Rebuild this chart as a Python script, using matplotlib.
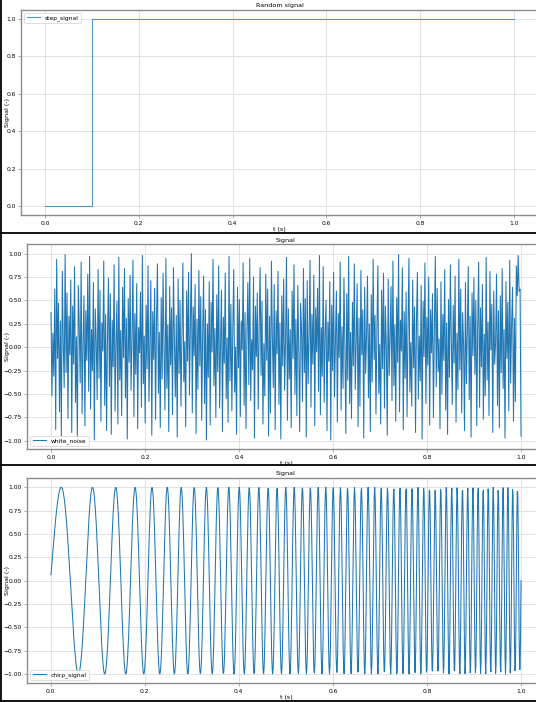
import numpy as np
import matplotlib.pyplot as plt
from matplotlib.lines import Line2D

# step signal: 0 until t = 0.1 s, then 1
step_t = [0.0, 0.1, 0.1, 1.0]
step_y = [0.0, 0.0, 1.0, 1.0]

# white noise samples (t spread evenly over 0..1 s)
noise_y = [
    0.37, -0.52, 0.15, -0.31, 0.62, -0.88, 0.94, -0.12, 0.47, -0.69, 0.28, -0.95, 0.81, 0.05, -0.43, 0.99, -0.27, 0.58, -0.76, 0.33,
    -0.08, 0.72, -0.91, 0.44, -0.18, 0.86, -0.59, 0.11, -0.97, 0.66, 0.23, -0.38, 0.91, -0.71, 0.02, 0.55, -0.84, 0.39, -0.14, 0.78,
    -0.47, 0.97, -0.66, 0.19, -0.25, 0.69, -0.99, 0.41, 0.08, -0.56, 0.83, -0.33, 0.61, -0.79, 0.26, -0.04, 0.92, -0.62, 0.35, -0.89,
    0.13, 0.74, -0.42, 0.57, -0.93, 0.29, -0.21, 0.88, -0.68, 0.04, 0.49, -0.82, 0.96, -0.35, 0.18, -0.73, 0.64, -0.11, 0.84, -0.54,
    0.31, -0.98, 0.52, -0.16, 0.77, -0.46, 0.09, 0.93, -0.74, 0.36, -0.29, 0.68, -0.87, 0.21, -0.06, 0.59, -0.64, 0.98, -0.39, 0.12,
    -0.81, 0.45, -0.23, 0.87, -0.58, 0.01, 0.71, -0.94, 0.38, -0.13, 0.63, -0.77, 0.27, 0.89, -0.49, 0.16, -0.86, 0.53, -0.34, 0.79,
    -0.02, -0.67, 0.95, -0.44, 0.24, -0.90, 0.65, -0.19, 0.42, -0.72, 0.85, 0.07, -0.53, 0.34, -0.96, 0.73, -0.28, 0.50, -0.63, 0.17,
    0.90, -0.37, 0.06, -0.85, 0.60, -0.15, 0.80, -0.51, 0.22, 1.00, -0.70, 0.43, -0.09, 0.67, -0.92, 0.30, -0.45, 0.82, -0.20, 0.54,
    -0.78, 0.14, 0.76, -0.60, 0.40, -0.99, 0.25, -0.32, 0.70, -0.83, 0.48, -0.05, 0.94, -0.41, 0.20, -0.75, 0.56, -0.26, 0.87, -0.65,
    0.03, 0.61, -0.90, 0.32, -0.17, 0.79, -0.55, 0.10, -0.80, 0.97, -0.36, 0.46, -0.68, 0.18, 0.83, -0.48, 0.00, -0.93, 0.64, -0.22,
    0.51, -0.74, 0.28, -0.03, 0.90, -0.62, 0.37, -0.87, 0.15, 0.69, -0.40, 0.95, -0.57, 0.08, -0.24, 0.75, -0.97, 0.44, -0.10, 0.58,
    -0.66, 0.23, 0.85, -0.30, 0.49, -0.82, 0.04, -0.52, 0.78, -0.14, 0.62, -0.95, 0.33, -0.70, 0.92, 0.12, -0.43, 0.67, -0.88, 0.39,
    -0.07, 0.81, -0.61, 0.26, -0.98, 0.55, -0.20, 0.73, -0.46, 0.06, 0.96, -0.78, 0.41, -0.34, 0.19, -0.86, 0.60, -0.12, 0.88, -0.50,
    0.30, -0.73, 0.66, -0.01, -0.90, 0.47, 0.17, -0.58, 0.84, -0.27, 0.52, -0.96, 0.71, -0.39, 0.10, 0.93, -0.64, 0.35, -0.18, 0.77,
    -0.84, 0.42, -0.05, 0.63, -0.47, 0.98, -0.72, 0.21, -0.31, 0.86, -0.59, 0.14, 0.50, -0.89, 0.27, -0.15, 0.70, -0.99, 0.45, -0.25,
    0.80, -0.53, 0.09, 0.60, -0.80, 0.36, -0.11, 0.91, -0.67, 0.22, -0.44, 0.74, 0.02, -0.92, 0.57, -0.35, 0.97, -0.60, 0.16, -0.76,
    0.48, -0.20, 0.89, -0.45, 0.07, 0.68, -0.85, 0.31, -0.63, 0.82, -0.08, 0.40, -0.97, 0.64, -0.28, 0.13, 0.76, -0.54, 0.25, -0.90,
    0.56, -0.37, 0.94, -0.13, 0.34, -0.71, 0.19, 0.87, -0.49, 0.03, -0.82, 0.61, -0.23, 0.79, -0.65, 0.44, 0.00, -0.94, 0.73, -0.30,
    0.11, 0.65, -0.57, 0.92, -0.41, 0.24, -0.79, 0.53, -0.16, 0.99, -0.69, 0.29, -0.04, 0.85, -0.88, 0.38, -0.33, 0.59, -0.74, 0.18,
    0.95, -0.48, 0.05, -0.63, 0.72, -0.22, 0.43, -0.91, 0.28, 0.80, -0.55, 0.12, -0.36, 0.66, -0.98, 0.49, -0.10, 0.90, -0.60, 0.32,
    -0.19, 0.75, -0.83, 0.40, -0.06, 0.57, -0.75, 0.20, 0.97, -0.42, 0.63, -0.26, 0.09, -0.87, 0.70, -0.50, 0.35, -0.14, 0.83, -0.67,
    0.26, -0.93, 0.51, -0.32, 0.88, 0.08, -0.61, 0.45, -0.17, 0.76, -0.80, 0.15, -0.45, 0.94, -0.24, 0.62, -0.70, 0.37, 0.03, -0.89,
    0.69, -0.39, 0.17, 0.86, -0.56, 0.33, -0.96, 0.58, -0.09, 0.74, -0.29, 0.50, -0.84, 0.22, 0.91, -0.64, 0.42, -0.21, 0.67, -0.77,
    0.14, -0.52, 0.96, -0.35, 0.27, -0.73, 0.81, -0.03, 0.46, -0.91, 0.60, -0.18, 0.05, 0.78, -0.62, 0.39, -0.86, 0.55, -0.27, 0.84,
    -0.44, 0.19, -0.97, 0.70, -0.12, 0.48, -0.68, 0.93, -0.38, 0.25, 0.64, -0.79, 0.31, -0.58, 0.87, 0.55, 0.98, 0.60, 0.62, -0.95,
]
noise_t = np.linspace(0.0, 1.0, len(noise_y))

# chirp: frequency sweep read from the peak spacing (about 10 Hz -> 100 Hz over 1 s)
chirp_f_start = 10.0
chirp_f_end = 100.0
chirp_t = np.linspace(0.001, 1.0, 1000)
chirp_y = np.sin(2 * np.pi * (chirp_f_start * chirp_t
                              + 0.5 * (chirp_f_end - chirp_f_start) * chirp_t ** 2))

LINE_COLOR = '#1f77b4'
SPINE_COLOR = '#8c8c8c'
FS = 4.3


def style_axes(ax, title, legend_loc, ylabel_x):
    ax.set_title(title, fontsize=FS + 0.3, pad=2)
    ax.set_xlabel('t (s)', fontsize=FS + 0.3, labelpad=1)
    ax.set_ylabel('Signal (-)', fontsize=FS + 0.3)
    ax.yaxis.set_label_coords(ylabel_x, 0.5)
    ax.grid(True, color='#e2e2e2', linewidth=0.7)
    ax.set_axisbelow(True)
    for s in ax.spines.values():
        s.set_color(SPINE_COLOR)
        s.set_linewidth(1.0)
    ax.tick_params(labelsize=FS, length=2, width=0.5, color=SPINE_COLOR, pad=2)
    leg = ax.legend(loc=legend_loc, fontsize=FS, handlelength=2.2,
                    borderpad=0.4, framealpha=0.9)
    leg.get_frame().set_linewidth(0.5)


fig = plt.figure(figsize=(5.36, 7.02), dpi=100)

ax1 = fig.add_axes([0.0401, 0.6932, 0.9627, 0.2931])
ax1.plot(step_t, step_y, color=LINE_COLOR, linewidth=0.8, alpha=0.75, label='step_signal')
style_axes(ax1, 'Random signal', 'upper left', -0.022)

ax2 = fig.add_axes([0.0513, 0.3600, 0.9646, 0.2920])
ax2.plot(noise_t, noise_y, color=LINE_COLOR, linewidth=0.75, label='white_noise')
style_axes(ax2, 'Signal', 'lower left', -0.034)

ax3 = fig.add_axes([0.0513, 0.0266, 0.9646, 0.2925])
ax3.plot(chirp_t, chirp_y, color=LINE_COLOR, linewidth=0.75, label='chirp_signal')
style_axes(ax3, 'Signal', 'lower left', -0.034)

# black frame lines between the stacked panels
for y in [0.6674, 0.3369, 0.0014]:
    fig.add_artist(Line2D([0, 1], [y, y], transform=fig.transFigure,
                          color='black', linewidth=1.3))
fig.add_artist(Line2D([0.001, 0.001], [0, 1], transform=fig.transFigure,
                      color='black', linewidth=1.3))

fig.savefig('out.png', dpi=100)
plt.close(fig)
